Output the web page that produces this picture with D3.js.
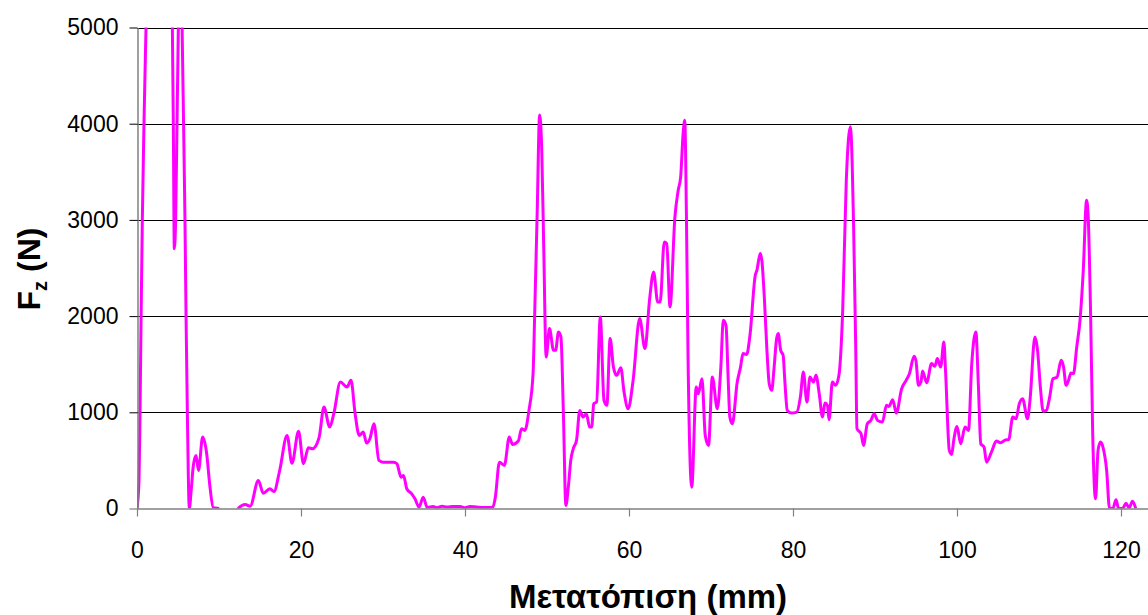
<!DOCTYPE html>
<html>
<head>
<meta charset="utf-8">
<script src="https://cdn.jsdelivr.net/npm/d3@7"></script>
<style>
html,body{margin:0;padding:0;background:#ffffff;}
svg{display:block;}
</style>
</head>
<body>
<svg id="chart" width="1148" height="615"></svg>
<script>
// ---- data ----
const displacement = [
0,0.25,0.37,0.5,0.65,0.85,1.1,1.5,3.8,4.3,4.43,4.55,4.71,4.88,5.04,5.2,5.35,5.5,5.68,5.85,5.98,6.14,6.38,
6.6,6.87,7.2,7.5,8.0,8.5,8.9,9.3,9.9,10.2,12.0,12.35,13.2,13.8,14.8,15.4,16.2,16.7,17.4,18.3,18.9,19.7,
20.3,20.9,21.4,22.2,22.8,23.5,24.0,24.8,25.6,26.1,26.6,27.1,27.6,28.0,28.4,28.9,29.5,30.0,31.3,31.7,32.2,
32.5,32.9,33.5,33.9,34.4,34.9,35.4,36.1,36.6,37.2,37.8,38.5,39.4,40.0,40.6,41.4,42.2,43.4,43.7,44.2,44.8,
45.4,45.8,46.5,46.9,47.3,47.8,48.3,48.5,48.8,49.1,49.35,49.6,49.9,50.3,50.8,51.05,51.4,51.7,52.0,52.3,52.6,
52.9,53.2,53.6,54.0,54.4,54.8,55.2,55.45,55.7,56.05,56.5,56.95,57.3,57.7,58.1,58.5,59.0,59.4,59.9,60.5,
61.3,61.95,62.5,63.0,63.5,63.8,64.3,64.6,65.0,65.6,66.0,66.3,66.6,66.8,67.0,67.2,67.65,68.2,68.45,68.9,
69.3,69.7,70.16,70.77,71.2,71.5,71.83,72.1,72.3,72.6,73.2,73.6,73.9,74.35,74.75,75.4,75.6,76.0,76.2,76.5,
76.8,77.1,77.4,77.7,78.0,78.2,78.5,78.8,79.0,79.3,79.8,80.45,80.9,81.26,81.7,82.07,82.5,82.8,83.2,83.6,
83.9,84.2,84.4,84.8,85.2,85.6,86.06,86.5,87.0,87.4,87.65,87.8,88.3,88.6,89.06,89.5,89.9,90.3,90.9,91.4,
91.7,92.16,92.6,93.25,93.8,94.2,94.76,95.0,95.3,95.6,95.8,96.3,96.9,97.3,97.6,98.0,98.4,98.6,99.06,99.35,
99.6,100.0,100.45,100.98,101.4,101.8,102.3,102.6,102.9,103.3,103.6,104.2,104.8,105.3,106.0,106.3,106.8,
107.2,107.6,108.0,108.6,108.9,109.5,109.8,110.2,110.5,110.9,111.3,111.7,112.2,112.7,113.0,113.3,113.6,
113.9,114.2,114.6,115.0,115.4,115.8,116.0,116.3,116.55,116.9,117.2,117.5,117.8,118.25,118.6,119.0,119.4,
119.7,120.2,120.6,121.0,121.4,121.8
];
const forceFz = [
0,300,1000,2000,3000,4000,5000,6500,6500,5100,4000,2700,3000,4000,5000,5800,5800,5000,4000,3000,2000,1000,0,
180,447,552,395,742,569,222,10,0,-80,-80,0,42,24,291,159,205,177,395,760,470,804,
465,631,621,735,1054,846,985,1314,1262,1332,985,760,794,680,725,881,500,482,482,465,326,
343,205,153,101,14,118,10,21,8,24,15,20,21,8,20,15,10,14,118,482,447,
742,666,701,829,812,1020,1401,2026,3067,4090,3760,2719,1574,1870,1644,1644,1835,1783,985,31,222,
500,621,708,1020,950,985,846,846,1089,1106,1991,1124,1072,1766,1470,1384,1464,1210,1037,1332,
1974,1662,2164,2459,2147,2147,2771,2754,2095,3032,3309,3447,3898,4037,3067,1574,222,1262,1193,1349,
760,656,1366,1037,1470,1956,1904,1332,950,881,1314,1470,1610,1602,1800,2424,2477,2650,2581,2199,
1678,1297,1228,1470,1766,1818,1644,1592,1332,1020,992,1002,1158,1418,1106,1366,1314,1384,1193,950,
1096,1072,923,1314,1280,1384,2060,3413,3968,2893,1678,829,777,656,881,916,985,916,898,1072,
1061,1131,992,1245,1332,1401,1582,1533,1280,1314,1429,1308,1506,1478,1558,1470,1730,1436,604,562,
708,853,673,846,812,1506,1835,1297,673,638,482,586,701,684,715,715,950,
933,1089,1141,933,1124,1783,1662,1228,1012,1020,1158,1349,1366,1540,1470,1280,1332,
1408,1401,1678,1956,2477,3205,3031,1991,777,101,604,690,638,395,0,0,90,
0,0,55,7,76,0
];
const xTicks = [0, 20, 40, 60, 80, 100, 120];
const yTicks = [0, 1000, 2000, 3000, 4000, 5000];
const xTitle = "Μετατόπιση (mm)";
const yTitleMain = "F";
const yTitleSub = "z";
const yTitleUnit = " (N)";

// ---- layout ----
const W = 1148, H = 615;
const plotLeft = 137, plotRight = 1148, plotTop = 27.5, plotBottom = 508.5;
const font = "'Liberation Sans', Arial, Helvetica, sans-serif";

const x = d3.scaleLinear().domain([0, (plotRight - plotLeft) / 8.2]).range([plotLeft, plotRight]);
const y = d3.scaleLinear().domain([0, 5000]).range([plotBottom, plotTop]);

const svg = d3.select("#chart");
svg.append("rect").attr("width", W).attr("height", H).attr("fill", "#ffffff");

svg.append("defs").append("clipPath").attr("id", "plotClip")
  .append("rect")
  .attr("x", plotLeft).attr("y", plotTop)
  .attr("width", plotRight - plotLeft).attr("height", plotBottom - plotTop);

// gridlines
svg.append("g").selectAll("line")
  .data(yTicks.filter(d => d > 0))
  .join("line")
  .attr("x1", plotLeft).attr("x2", plotRight)
  .attr("y1", d => Math.round(y(d)) + 0.5).attr("y2", d => Math.round(y(d)) + 0.5)
  .attr("stroke", "#000000").attr("stroke-width", 1)
  .attr("shape-rendering", "crispEdges");

// series
const pts = displacement.map((d, i) => [d, forceFz[i]]);
const line = d3.line().x(d => x(d[0])).y(d => y(d[1])).curve(d3.curveMonotoneX);
svg.append("path")
  .datum(pts)
  .attr("clip-path", "url(#plotClip)")
  .attr("fill", "none")
  .attr("stroke", "#ff00ff")
  .attr("stroke-width", 3)
  .attr("stroke-linejoin", "round")
  .attr("d", line);

// axes
const yAxis = d3.axisLeft(y).tickValues(yTicks).tickSize(8).tickSizeOuter(0).tickPadding(11)
  .tickFormat(d3.format("d"));
const gy = svg.append("g").attr("transform", `translate(${plotLeft + 0.5},0)`).call(yAxis);

const xAxis = d3.axisBottom(x).tickValues(xTicks).tickSize(8).tickSizeOuter(0).tickPadding(25)
  .tickFormat(d3.format("d"));
const gx = svg.append("g").attr("transform", `translate(0,${plotBottom})`).call(xAxis);

[gx, gy].forEach(g => {
  g.select(".domain").attr("stroke", "#808080").attr("stroke-width", 1.5);
  g.selectAll(".tick line").attr("stroke", "#808080").attr("stroke-width", 1.2);
  g.selectAll(".tick text").attr("fill", "#000000")
    .style("font-family", font).style("font-size", "23px");
});
gy.selectAll(".tick line").filter(d => d > 0).attr("stroke", "#000000").attr("stroke-width", 1);

// titles
svg.append("text")
  .attr("x", 648).attr("y", 608)
  .attr("text-anchor", "middle")
  .style("font-family", font).style("font-size", "33px").style("font-weight", "bold")
  .attr("fill", "#000")
  .text(xTitle);

const yt = svg.append("text")
  .attr("transform", "translate(40,269) rotate(-90)")
  .attr("text-anchor", "middle")
  .style("font-family", font).style("font-size", "32px").style("font-weight", "bold")
  .attr("fill", "#000");
yt.append("tspan").text(yTitleMain);
yt.append("tspan").attr("dy", 7).style("font-size", "20px").text(yTitleSub);
yt.append("tspan").attr("dy", -7).text(yTitleUnit);
</script>
</body>
</html>
